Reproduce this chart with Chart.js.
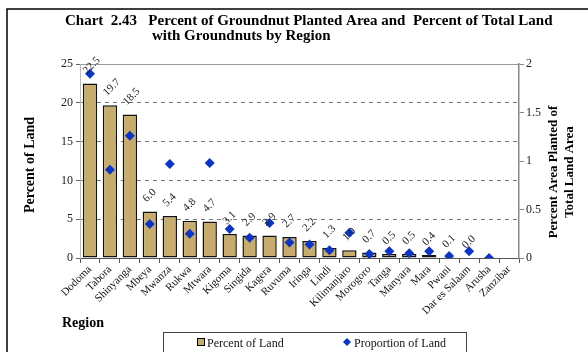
<!doctype html>
<html lang="en">
<head>
    <meta charset="UTF-8">
    <title>Groundnut Planted Area by Region</title>
    <script src="https://cdn.jsdelivr.net/npm/chart.js"></script>
    <style>
        body { margin: 0; background: #fff; }
        canvas { display: block; }
    </style>
</head>
<body>
    <canvas id="groundnutChart" width="588" height="352"></canvas>
    <script>
        const regions = ['Dodoma', 'Tabora', 'Shinyanga', 'Mbeya', 'Mwanza', 'Rukwa', 'Mtwara', 'Kigoma',
            'Singida', 'Kagera', 'Ruvuma', 'Iringa', 'Lindi', 'Kilimanjaro', 'Morogoro', 'Tanga',
            'Manyara', 'Mara', 'Pwani', 'Dar es Salaam', 'Arusha', 'Zanzibar'];
        const percentOfLand = [22.5, 19.7, 18.5, 6.0, 5.4, 4.8, 4.7, 3.1, 2.9, 2.9, 2.7, 2.2,
            1.3, 1.0, 0.7, 0.5, 0.5, 0.4, 0.1, 0.0, null, null];
        const proportionOfLand = [1.90, 0.91, 1.26, 0.35, 0.97, 0.25, 0.98, 0.30, 0.21, 0.36, 0.16, 0.14,
            0.08, 0.26, 0.04, 0.07, 0.05, 0.07, 0.02, 0.07, 0.0, null];
        const leftTicks = [0, 5, 10, 15, 20, 25];
        const rightTicks = [0, 0.5, 1, 1.5, 2];

        const serif = 'Liberation Serif';
        const barColor = '#c6ad6e';
        const diamondColor = '#0a35c8';

        // value labels, titles, frame and legend
        const decorations = {
            id: 'decorations',
            afterDatasetsDraw(chart) {
                const ctx = chart.ctx;
                const meta = chart.getDatasetMeta(0);
                ctx.save();
                ctx.font = '11px ' + serif;
                ctx.fillStyle = '#222';
                ctx.textAlign = 'left';
                ctx.textBaseline = 'alphabetic';
                meta.data.forEach((bar, i) => {
                    const v = percentOfLand[i];
                    if (v === null) return;
                    ctx.save();
                    ctx.translate(bar.x - 3, bar.y - 9);
                    ctx.rotate(-Math.PI / 4);
                    ctx.fillText(v.toFixed(1), 0, 0);
                    ctx.restore();
                });
                ctx.restore();
            },
            afterDraw(chart) {
                const ctx = chart.ctx;
                ctx.save();
                // frame
                ctx.strokeStyle = '#000';
                ctx.lineWidth = 1.5;
                ctx.beginPath();
                ctx.moveTo(7, 352);
                ctx.lineTo(7, 9);
                ctx.lineTo(588, 9);
                ctx.stroke();

                // chart title
                ctx.fillStyle = '#000';
                ctx.font = 'bold 15px ' + serif;
                ctx.textAlign = 'left';
                ctx.fillText('Chart  2.43   Percent of Groundnut Planted Area and  Percent of Total Land', 65, 25);
                ctx.fillText('with Groundnuts by Region', 152, 40);

                // axis titles
                ctx.font = 'bold 14px ' + serif;
                ctx.textAlign = 'center';
                ctx.save();
                ctx.translate(34, 165);
                ctx.rotate(-Math.PI / 2);
                ctx.fillText('Percent of Land', 0, 0);
                ctx.restore();

                ctx.font = 'bold 13px ' + serif;
                ctx.save();
                ctx.translate(557, 172);
                ctx.rotate(-Math.PI / 2);
                ctx.fillText('Percent Area Planted of', 0, 0);
                ctx.fillText('Total Land Area', 0, 16);
                ctx.restore();

                ctx.textAlign = 'left';
                ctx.font = 'bold 14px ' + serif;
                ctx.fillText('Region', 62, 327);

                // legend
                ctx.strokeStyle = '#444';
                ctx.lineWidth = 1;
                ctx.strokeRect(163.5, 332.5, 303, 30);
                ctx.fillStyle = barColor;
                ctx.fillRect(197, 338, 8, 8);
                ctx.strokeStyle = '#000';
                ctx.strokeRect(197.5, 338.5, 7, 7);
                ctx.fillStyle = diamondColor;
                ctx.beginPath();
                ctx.moveTo(347, 338);
                ctx.lineTo(351, 342);
                ctx.lineTo(347, 346);
                ctx.lineTo(343, 342);
                ctx.closePath();
                ctx.fill();
                ctx.fillStyle = '#111';
                ctx.font = '12px ' + serif;
                ctx.fillText('Percent of Land', 207, 347);
                ctx.fillText('Proportion of Land', 354, 347);
                ctx.restore();
            }
        };

        const ctx = document.getElementById('groundnutChart').getContext('2d');
        new Chart(ctx, {
            type: 'bar',
            data: {
                labels: regions,
                datasets: [{
                    label: 'Percent of Land',
                    data: percentOfLand,
                    backgroundColor: barColor,
                    borderColor: '#111',
                    borderWidth: 1.5,
                    borderSkipped: false,
                    barPercentage: 0.72,
                    categoryPercentage: 1,
                    yAxisID: 'y',
                    order: 2
                }, {
                    type: 'line',
                    label: 'Proportion of Land',
                    data: proportionOfLand,
                    showLine: false,
                    pointStyle: 'rectRot',
                    pointRadius: 5,
                    backgroundColor: diamondColor,
                    borderColor: diamondColor,
                    borderWidth: 0,
                    yAxisID: 'y1',
                    order: 1
                }]
            },
            options: {
                responsive: false,
                animation: false,
                layout: { padding: { top: 64, left: 0, right: 0, bottom: 0 } },
                plugins: {
                    legend: { display: false },
                    tooltip: { enabled: false }
                },
                scales: {
                    x: {
                        offset: true,
                        grid: { offset: true, drawOnChartArea: false, tickLength: 5, color: '#555' },
                        border: { color: '#555', width: 1 },
                        ticks: {
                            autoSkip: false,
                            minRotation: 45,
                            maxRotation: 45,
                            padding: 0,
                            color: '#111',
                            font: { family: serif, size: 11 }
                        },
                        afterFit: s => { s.height = 94; }
                    },
                    y: {
                        position: 'left',
                        min: 0,
                        max: 25,
                        afterBuildTicks: s => { s.ticks = leftTicks.map(v => ({ value: v })); },
                        grid: {
                            color: c => c.tick && c.tick.value === 25 ? '#999' : '#777',
                            lineWidth: 1,
                            tickLength: 4,
                            tickColor: '#666'
                        },
                        border: {
                            color: '#bbb',
                            dash: c => c.tick && c.tick.value === 25 ? [] : [4, 4]
                        },
                        ticks: {
                            padding: 3,
                            color: '#222',
                            font: { family: serif, size: 12 },
                            callback: v => String(v)
                        },
                        afterFit: s => { s.width = 80; }
                    },
                    y1: {
                        position: 'right',
                        min: 0,
                        max: 2,
                        afterBuildTicks: s => { s.ticks = rightTicks.map(v => ({ value: v })); },
                        grid: { drawOnChartArea: false, tickLength: 5, color: '#888' },
                        border: { color: '#888', width: 1.5 },
                        ticks: {
                            padding: 2,
                            color: '#222',
                            font: { family: serif, size: 12 },
                            callback: v => String(v)
                        },
                        afterFit: s => { s.width = 69; }
                    }
                }
            },
            plugins: [decorations]
        });
    </script>
</body>
</html>
